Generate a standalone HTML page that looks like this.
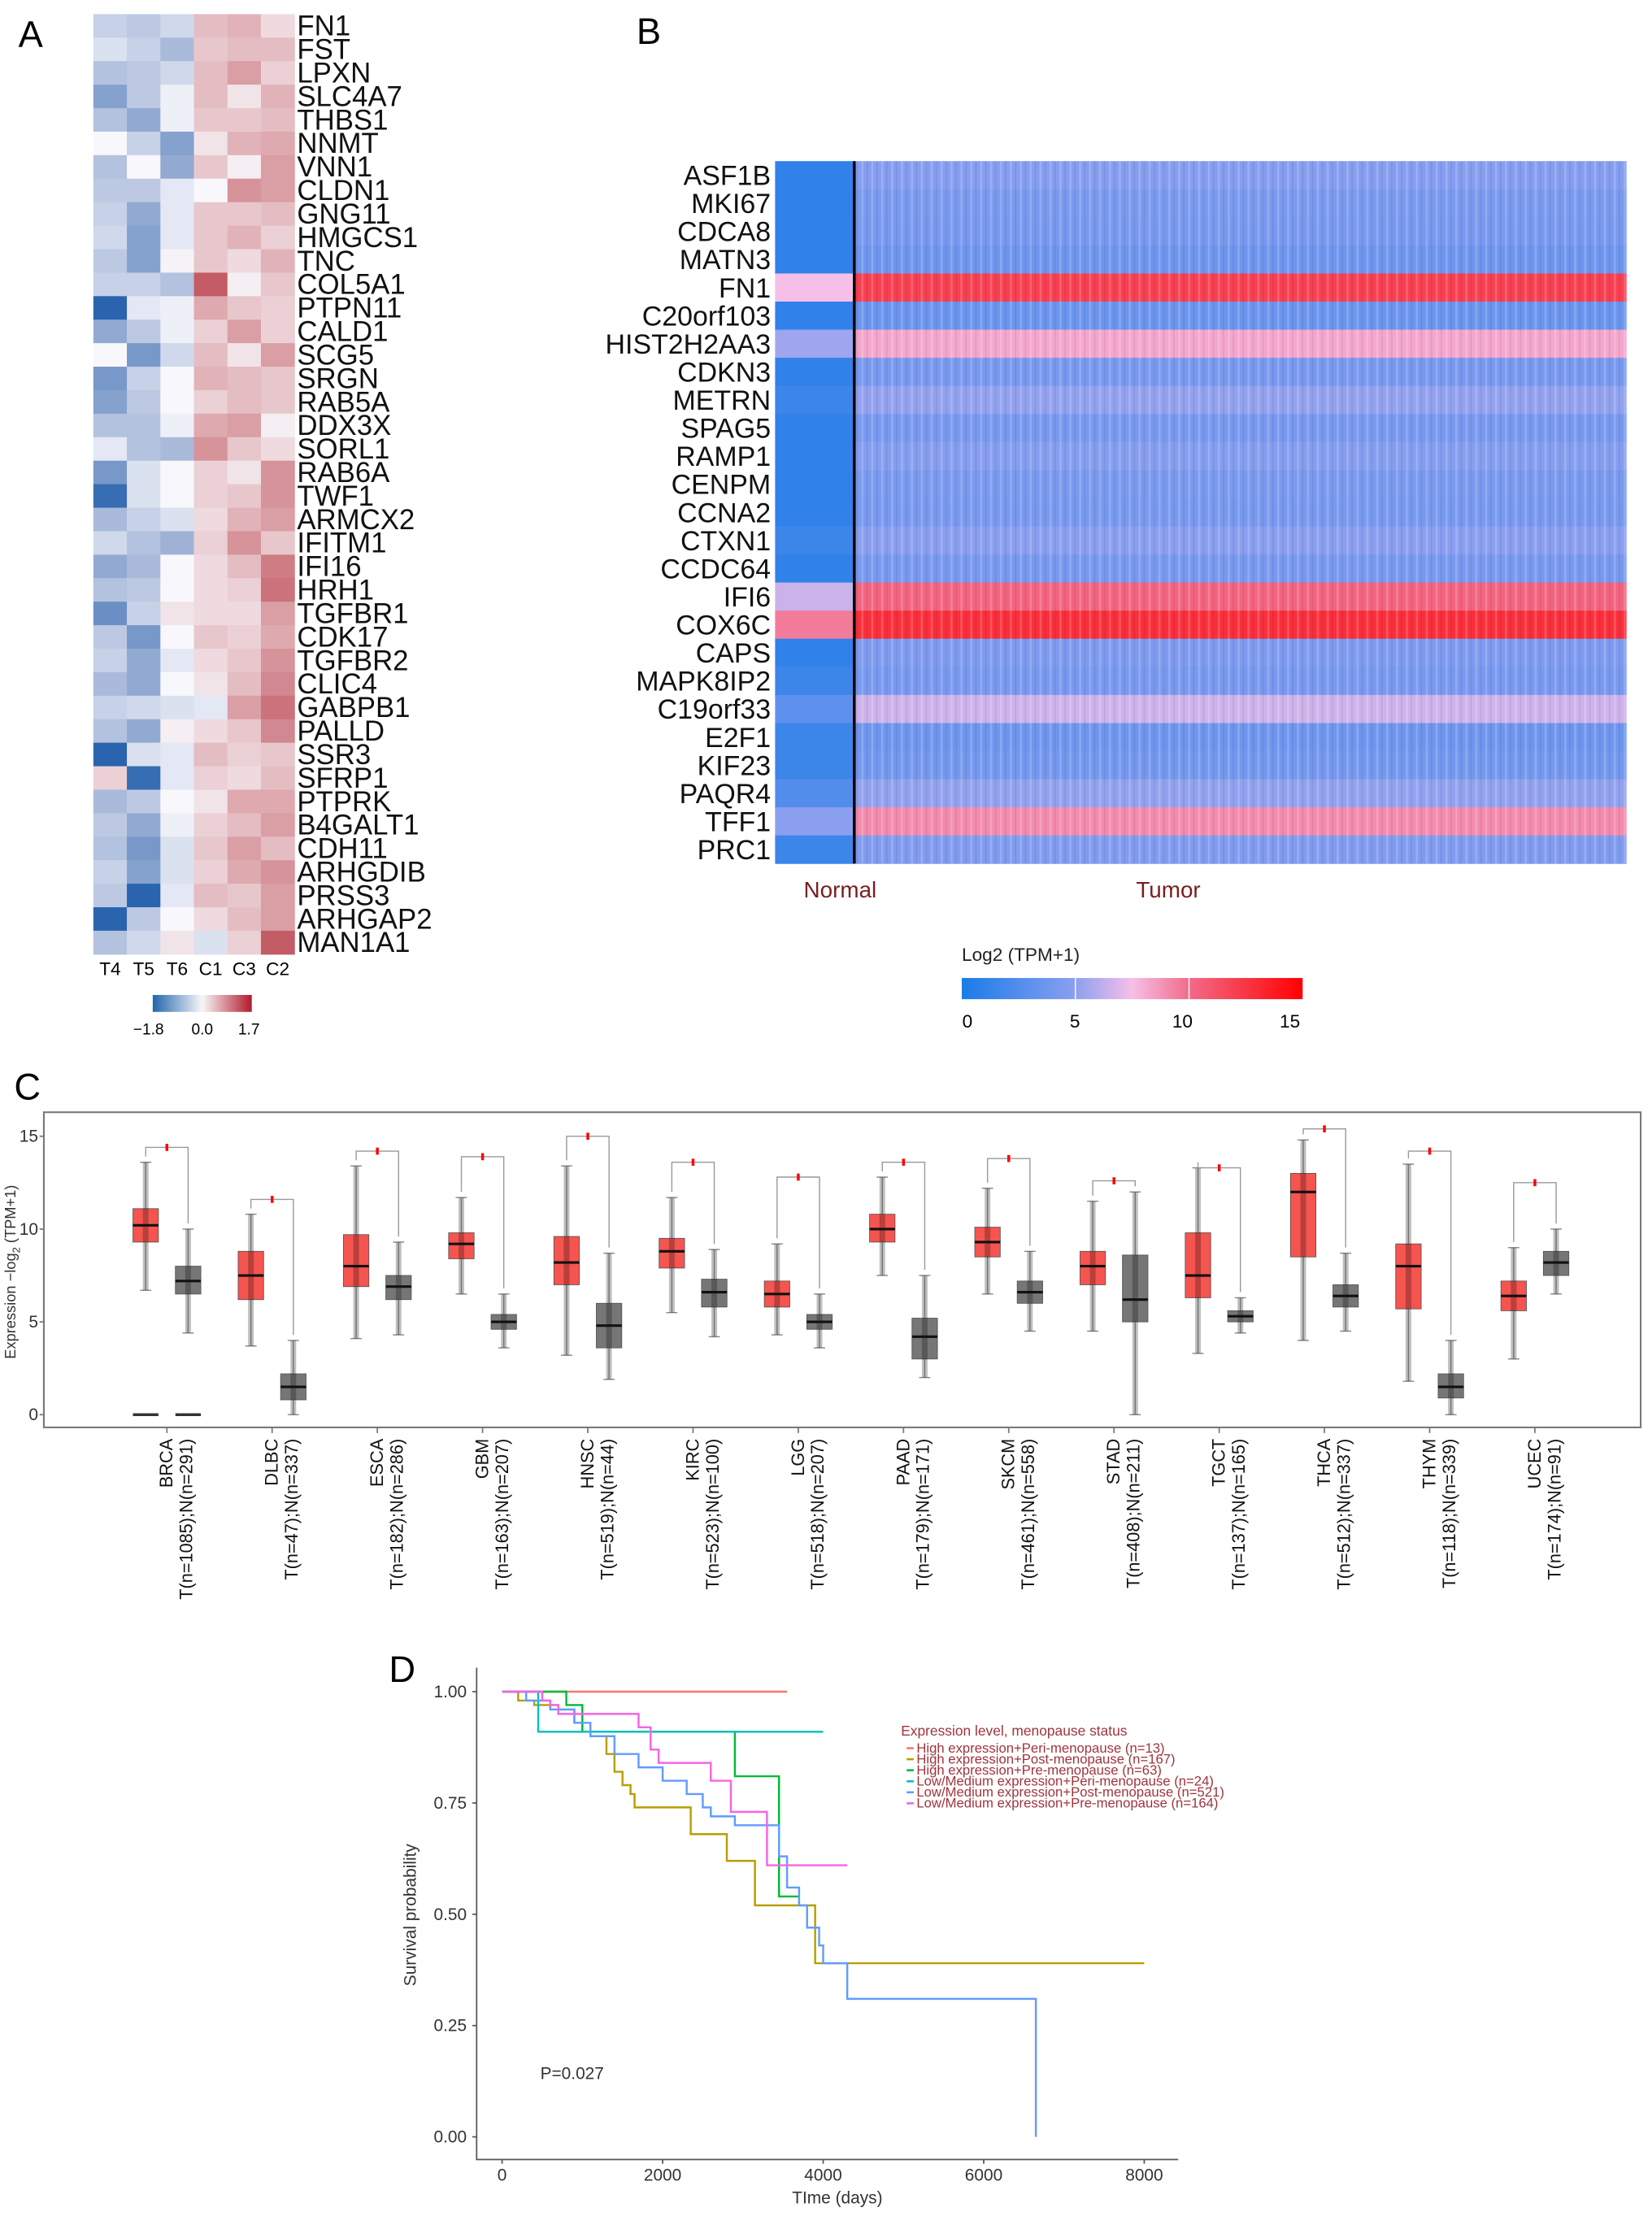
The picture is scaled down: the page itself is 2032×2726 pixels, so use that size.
<!DOCTYPE html>
<html><head><meta charset="utf-8"><style>
html,body{margin:0;padding:0;background:#fff;}
svg{display:block;font-family:"Liberation Sans",Arial,sans-serif;}
</style></head><body>
<svg id="fig" xmlns="http://www.w3.org/2000/svg" width="2032" height="2726" viewBox="0 0 1168 1568" preserveAspectRatio="none">
<defs>
<linearGradient id="gA" x1="0" x2="1"><stop offset="0" stop-color="#2166ac"/><stop offset="0.5" stop-color="#f7f7f7"/><stop offset="1" stop-color="#b2182b"/></linearGradient>
<linearGradient id="gB" x1="0" x2="1"><stop offset="0" stop-color="#1a7be8"/><stop offset="0.33" stop-color="#8a9ff0"/><stop offset="0.5" stop-color="#f5bfe8"/><stop offset="0.67" stop-color="#f26a88"/><stop offset="1" stop-color="#ff0000"/></linearGradient>
<pattern id="stripes" width="7" height="10" patternUnits="userSpaceOnUse"><rect x="0" y="0" width="1.5" height="10" fill="#fff" opacity="0.18"/><rect x="3.5" y="0" width="1" height="10" fill="#000" opacity="0.07"/></pattern>
</defs>
<g id="A"></g><g id="B"></g><g id="C"></g><g id="D"></g>
</svg>
<script>
// ---------- Panel A data ----------
const aGenes=["FN1","FST","LPXN","SLC4A7","THBS1","NNMT","VNN1","CLDN1","GNG11","HMGCS1","TNC","COL5A1","PTPN11","CALD1","SCG5","SRGN","RAB5A","DDX3X","SORL1","RAB6A","TWF1","ARMCX2","IFITM1","IFI16","HRH1","TGFBR1","CDK17","TGFBR2","CLIC4","GABPB1","PALLD","SSR3","SFRP1","PTPRK","B4GALT1","CDH11","ARHGDIB","PRSS3","ARHGAP2","MAN1A1"];
const aSamples=["T4","T5","T6","C1","C3","C2"];
const aValues=[
[-0.5,-0.6,-0.4,0.6,0.7,0.3],[-0.3,-0.5,-0.8,0.5,0.6,0.6],[-0.7,-0.6,-0.4,0.6,0.9,0.4],[-1.1,-0.6,-0.1,0.6,0.2,0.7],
[-0.7,-1.0,-0.1,0.5,0.5,0.6],[0,-0.5,-1.1,0.2,0.7,0.8],[-0.7,0,-1.0,0.5,0.1,0.9],[-0.6,-0.6,-0.2,0,1.0,0.9],
[-0.5,-1.0,-0.2,0.5,0.5,0.6],[-0.4,-1.1,-0.2,0.5,0.7,0.4],[-0.6,-1.1,0.05,0.5,0.3,0.7],[-0.5,-0.5,-0.7,1.5,0.1,0.5],
[-1.8,-0.2,-0.1,0.8,0.5,0.4],[-1.0,-0.6,-0.1,0.4,0.9,0.4],[0,-1.2,-0.4,0.6,0.2,0.9],[-1.2,-0.5,0,0.7,0.6,0.5],
[-1.1,-0.6,0,0.4,0.6,0.5],[-0.7,-0.7,-0.1,0.8,0.9,0.1],[-0.2,-0.7,-0.8,1.0,0.5,0.3],[-1.2,-0.3,0,0.4,0.2,1.0],
[-1.7,-0.3,0,0.4,0.5,1.0],[-0.8,-0.5,-0.3,0.3,0.7,0.9],[-0.4,-0.7,-0.9,0.4,1.0,0.5],[-1.0,-0.8,0,0.3,0.6,1.2],
[-0.7,-0.6,0,0.3,0.4,1.3],[-1.3,-0.5,0.2,0.3,0.3,0.9],[-0.6,-1.2,0,0.5,0.4,0.8],[-0.5,-1.0,-0.2,0.3,0.5,1.0],
[-0.8,-1.0,0,0.2,0.6,1.1],[-0.5,-0.4,-0.3,-0.2,0.9,1.3],[-0.7,-1.0,0.1,0.3,0.5,1.1],[-1.8,-0.3,-0.2,0.6,0.4,0.5],
[0.4,-1.7,-0.2,0.4,0.3,0.6],[-0.8,-0.6,0,0.2,0.8,0.8],[-0.6,-1.0,-0.1,0.4,0.6,0.9],[-0.7,-1.2,-0.3,0.5,0.9,0.6],
[-0.5,-1.1,-0.3,0.4,0.8,1.0],[-0.6,-1.8,-0.2,0.6,0.5,0.9],[-1.8,-0.6,0,0.3,0.6,0.9],[-0.7,-0.4,0.2,-0.3,0.4,1.5]];
const aScaleTicks=["−1.8","0.0","1.7"];
// ---------- Panel B data ----------
const bGenes=["ASF1B","MKI67","CDCA8","MATN3","FN1","C20orf103","HIST2H2AA3","CDKN3","METRN","SPAG5","RAMP1","CENPM","CCNA2","CTXN1","CCDC64","IFI6","COX6C","CAPS","MAPK8IP2","C19orf33","E2F1","KIF23","PAQR4","TFF1","PRC1"];
const bNormal=[1,1,1,1,7.5,1,5.5,1,1.5,1,1,1,1,1.5,1,6.5,9.5,1,1.5,3,1.5,1.5,2.5,5,1.5];
const bTumor=[4.8,4.3,4.2,3.8,12,3.6,8.2,4.2,5.2,4.2,4.8,4.3,4.2,5,4.2,10.3,12.8,4.5,4.2,6.6,3.8,4,5.2,9,4.6];
const bTicks=[0,5,10,15];
// ---------- Panel C data ----------
const cCats=["BRCA","DLBC","ESCA","GBM","HNSC","KIRC","LGG","PAAD","SKCM","STAD","TGCT","THCA","THYM","UCEC"];
const cCounts=["T(n=1085);N(n=291)","T(n=47);N(n=337)","T(n=182);N(n=286)","T(n=163);N(n=207)","T(n=519);N(n=44)","T(n=523);N(n=100)","T(n=518);N(n=207)","T(n=179);N(n=171)","T(n=461);N(n=558)","T(n=408);N(n=211)","T(n=137);N(n=165)","T(n=512);N(n=337)","T(n=118);N(n=339)","T(n=174);N(n=91)"];
// [median,q1,q3,lo,hi]
const cTumor=[[10.2,9.3,11.1,6.7,13.6],[7.5,6.2,8.8,3.7,10.8],[8.0,6.9,9.7,4.1,13.4],[9.2,8.4,9.8,6.5,11.7],[8.2,7.0,9.6,3.2,13.4],[8.8,7.9,9.5,5.5,11.7],[6.5,5.8,7.2,4.3,9.2],[10.0,9.3,10.8,7.5,12.8],[9.3,8.5,10.1,6.5,12.2],[8.0,7.0,8.8,4.5,11.5],[7.5,6.3,9.8,3.3,13.3],[12.0,8.5,13.0,4.0,14.8],[8.0,5.7,9.2,1.8,13.5],[6.4,5.6,7.2,3.0,9.0]];
const cNormal=[[7.2,6.5,8.0,4.4,10.0],[1.5,0.8,2.2,0,4.0],[6.9,6.2,7.5,4.3,9.3],[5.0,4.6,5.4,3.6,6.5],[4.8,3.6,6.0,1.9,8.7],[6.6,5.8,7.3,4.2,8.9],[5.0,4.6,5.4,3.6,6.5],[4.2,3.0,5.2,2.0,7.5],[6.6,6.0,7.2,4.5,8.8],[6.2,5.0,8.6,0,12.0],[5.3,5.0,5.6,4.4,6.3],[6.4,5.8,7.0,4.5,8.7],[1.5,0.9,2.2,0,4.0],[8.2,7.5,8.8,6.5,10.0]];
const cSig=[14.4,11.6,14.2,13.9,15.0,13.6,12.8,13.6,13.8,12.6,13.3,15.4,14.2,12.5];
const cYTicks=[0,5,10,15];
// ---------- Panel D data ----------
const dNames=["High expression+Peri-menopause (n=13)","High expression+Post-menopause (n=167)","High expression+Pre-menopause (n=63)","Low/Medium expression+Peri-menopause (n=24)","Low/Medium expression+Post-menopause (n=521)","Low/Medium expression+Pre-menopause (n=164)"];
const dColors=["#f8766d","#b79f00","#00ba38","#00bfc4","#619cff","#f564e3"];
const dTimes=[
[0,3550],
[0,200,400,700,900,1000,1100,1300,1400,1500,1600,1650,2350,2800,3150,3900,8000],
[0,800,1000,1050,2900,3450,3700],
[0,450,4000],
[0,300,600,900,1100,1400,1700,2000,2300,2500,2600,2900,3450,3550,3700,3800,3950,4000,4300,6650],
[0,500,600,700,1700,1850,1950,2600,2850,3300,3500,4300]];
const dSurv=[
[1,1],
[1,0.98,0.97,0.96,0.93,0.91,0.90,0.86,0.82,0.79,0.77,0.74,0.68,0.62,0.52,0.39,0.39],
[1,0.97,0.91,0.91,0.81,0.54,0.54],
[1,0.91,0.91],
[1,0.98,0.96,0.93,0.90,0.86,0.83,0.80,0.77,0.74,0.72,0.70,0.63,0.56,0.52,0.47,0.43,0.39,0.31,0.0],
[1,0.98,0.97,0.95,0.92,0.87,0.84,0.80,0.73,0.61,0.61,0.61]];
const dXTicks=[0,2000,4000,6000,8000];
const dYTicks=[0,0.25,0.5,0.75,1.0];

const NS="http://www.w3.org/2000/svg";
function mk(parent,tag,attrs,text){const e=document.createElementNS(NS,tag);for(const k in attrs)e.setAttribute(k,attrs[k]);if(text!==undefined)e.textContent=text;parent.appendChild(e);return e;}
function lerpC(c1,c2,t){const a=[1,3,5].map(i=>parseInt(c1.substr(i,2),16)),b=[1,3,5].map(i=>parseInt(c2.substr(i,2),16));return "rgb("+a.map((v,i)=>Math.round(v+(b[i]-v)*t)).join(",")+")";}
function ramp(stops,v){for(let i=0;i<stops.length-1;i++){if(v<=stops[i+1][0]){const t=(v-stops[i][0])/(stops[i+1][0]-stops[i][0]);return lerpC(stops[i][1],stops[i+1][1],Math.max(0,Math.min(1,t)));}}return stops[stops.length-1][1];}

// ===== Panel A =====
const A=document.getElementById('A');
let t=mk(A,'text',{x:13,y:33,'font-size':26},'A');


const aX0=66,aY0=10,aW=23.7,aH=16.63;
const aStops=[[-1.8,"#2a64ae"],[-0.9,"#9fb2d6"],[0,"#f8f8fc"],[0.85,"#dca4aa"],[1.7,"#bb4650"]];
aGenes.forEach((g,r)=>{
  aSamples.forEach((s,c)=>{
    const e=mk(A,'rect',{x:aX0+c*aW,y:aY0+r*aH,width:aW+0.3,height:aH+0.3,fill:ramp(aStops,aValues[r][c])});
    
    
  });
  const l=mk(A,'text',{x:210,y:aY0+r*aH+aH-1.5,'font-size':20,fill:'#111'},g);
  
  
});
aSamples.forEach((s,c)=>{
  const l=mk(A,'text',{x:aX0+c*aW+aW/2,y:690,'font-size':13,'text-anchor':'middle'},s);
  
  
});
let cb=mk(A,'rect',{x:108,y:704,width:70,height:12,fill:'url(#gA)'});


aScaleTicks.forEach((s,i)=>{const l=mk(A,'text',{x:[105,143,176][i],y:732,'font-size':11,'text-anchor':'middle'},s);
  
  });

// ===== Panel B =====
const B=document.getElementById('B');
t=mk(B,'text',{x:450,y:31,'font-size':26},'B');


const bX0=548,bXn=604,bX1=1150,bY0=114,bH=(611-114)/25;
const bStops=[[0,"#1a7be8"],[5,"#8a9ff0"],[7.5,"#f5bfe8"],[10,"#f26a88"],[15,"#ff0000"]];
bGenes.forEach((g,r)=>{
  let e=mk(B,'rect',{x:bX0,y:bY0+r*bH,width:bXn-bX0,height:bH+0.3,fill:ramp(bStops,bNormal[r])});
  
  
  e=mk(B,'rect',{x:bXn,y:bY0+r*bH,width:bX1-bXn,height:bH+0.3,fill:ramp(bStops,bTumor[r])});
  
  
  const l=mk(B,'text',{x:545,y:bY0+r*bH+bH-3,'font-size':19.5,'text-anchor':'end',fill:'#111'},g);
  
  
});
let st=mk(B,'rect',{x:bXn,y:bY0,width:bX1-bXn,height:611-bY0,fill:'url(#stripes)'});


let dv=mk(B,'line',{x1:bXn,x2:bXn,y1:bY0,y2:611,stroke:'#000','stroke-width':2});


t=mk(B,'text',{x:594,y:635,'font-size':16,'text-anchor':'middle',fill:'#7b1e1e'},'Normal');


t=mk(B,'text',{x:826,y:635,'font-size':16,'text-anchor':'middle',fill:'#7b1e1e'},'Tumor');


t=mk(B,'text',{x:680,y:680,'font-size':13,fill:'#222'},'Log2 (TPM+1)');


cb=mk(B,'rect',{x:680,y:692,width:241,height:15,fill:'url(#gB)'});


bTicks.forEach(v=>{const x=684+v*(912-684)/15;
  const l=mk(B,'text',{x:x,y:727,'font-size':13,'text-anchor':'middle'},String(v));
  
  
  if(v>0&&v<15){const w=mk(B,'line',{x1:680+v*241/15,x2:680+v*241/15,y1:692,y2:707,stroke:'#fff','stroke-width':0.8});
  
  }
});

// ===== Panel C =====
const C=document.getElementById('C');
t=mk(C,'text',{x:10,y:778,'font-size':26},'C');


const cy=v=>1001-v*(1001-804)/15;
const cx=i=>118+i*74.4;
let fr=mk(C,'rect',{x:31,y:787,width:1129,height:223,fill:'none',stroke:'#777','stroke-width':1.2});


cYTicks.forEach(v=>{
  const l=mk(C,'text',{x:27,y:cy(v)+4,'font-size':12,'text-anchor':'end',fill:'#333'},String(v));
  
  
  const k=mk(C,'line',{x1:28,x2:31,y1:cy(v),y2:cy(v),stroke:'#777'});
  
  
});
let yt=mk(C,'text',{transform:'translate(11,900) rotate(-90)','font-size':10.5,'text-anchor':'middle',fill:'#333'});


yt.innerHTML='Expression −log<tspan font-size="7.5" dy="3">2</tspan><tspan dy="-3"> (TPM+1)</tspan>';
function box(x,d,fill,name){
  const w=18;
  let e=mk(C,'line',{x1:x,x2:x,y1:cy(d[4]),y2:cy(d[3]),stroke:'#999','stroke-width':0.8});
  
  
  [d[3],d[4]].forEach(v=>{const c=mk(C,'line',{x1:x-4,x2:x+4,y1:cy(v),y2:cy(v),stroke:'#888','stroke-width':0.8});
    
    });
  e=mk(C,'rect',{x:x-w/2,y:cy(d[2]),width:w,height:cy(d[1])-cy(d[2]),fill:fill,stroke:'#555','stroke-width':0.5});
  
  
  e=mk(C,'rect',{x:x-2,y:cy(d[4]),width:4,height:cy(d[3])-cy(d[4]),fill:'#000',opacity:0.25});
  
  
  e=mk(C,'line',{x1:x-w/2,x2:x+w/2,y1:cy(d[0]),y2:cy(d[0]),stroke:'#111','stroke-width':1.8});
  
  
}
cCats.forEach((c,i)=>{
  const x=cx(i);
  box(x-15,cTumor[i],'#f6544f','tumor');
  box(x+15,cNormal[i],'#767676','normal');
  const sy=cy(cSig[i]);
  const br=mk(C,'polyline',{points:`${x-15},${cy(cTumor[i][4])-4} ${x-15},${sy} ${x+15},${sy} ${x+15},${cy(cNormal[i][4])-4}`,fill:'none',stroke:'#999','stroke-width':0.8});
  
  
  const s=mk(C,'rect',{x:x-1,y:sy-2.5,width:2,height:5,fill:'#f00'});
  
  
  const k=mk(C,'line',{x1:x,x2:x,y1:1010,y2:1014,stroke:'#777'});
  
  
  const l=mk(C,'text',{transform:`translate(${x+4},1018) rotate(-90)`,'font-size':12.5,'text-anchor':'end',fill:'#111'},c);
  
  
  const n=mk(C,'text',{transform:`translate(${x+18},1018) rotate(-90)`,'font-size':12.5,'text-anchor':'end',fill:'#111'},cCounts[i]);
  
  
});
[103,133].forEach(x=>{const z=mk(C,'line',{x1:x-9,x2:x+9,y1:cy(0),y2:cy(0),stroke:'#333','stroke-width':2});
  
  });

// ===== Panel D =====
const D=document.getElementById('D');
t=mk(D,'text',{x:275,y:1190,'font-size':26},'D');


const dx=v=>355+v*(809-355)/8000;
const dy=v=>1512-v*(1512-1197);
let ax=mk(D,'polyline',{points:'337,1180 337,1528 833,1528',fill:'none',stroke:'#555','stroke-width':1});


dXTicks.forEach(v=>{const l=mk(D,'text',{x:dx(v),y:1543,'font-size':12,'text-anchor':'middle',fill:'#333'},String(v));
  
  
  const k=mk(D,'line',{x1:dx(v),x2:dx(v),y1:1528,y2:1531,stroke:'#555'});
  
  });
dYTicks.forEach(v=>{const l=mk(D,'text',{x:330,y:dy(v)+4,'font-size':12,'text-anchor':'end',fill:'#333'},v.toFixed(2));
  
  
  const k=mk(D,'line',{x1:334,x2:337,y1:dy(v),y2:dy(v),stroke:'#555'});
  
  });
t=mk(D,'text',{x:592,y:1559,'font-size':12,'text-anchor':'middle',fill:'#333'},'TIme (days)');


t=mk(D,'text',{transform:'translate(294,1355) rotate(-90)','font-size':12,'text-anchor':'middle',fill:'#333'},'Survival probability');


t=mk(D,'text',{x:382,y:1471,'font-size':12,fill:'#333'},'P=0.027');


dTimes.forEach((ts,k)=>{
  let pts=[];
  ts.forEach((tt,i)=>{ if(i>0) pts.push(dx(tt)+','+dy(dSurv[k][i-1])); pts.push(dx(tt)+','+dy(dSurv[k][i])); });
  const p=mk(D,'polyline',{points:pts.join(' '),fill:'none',stroke:dColors[k],'stroke-width':1.4});
  
  
});
t=mk(D,'text',{x:637,y:1228,'font-size':10,fill:'#a0343c'},'Expression level, menopause status');


dNames.forEach((n,i)=>{
  const y=1240+i*7.8;
  const m=mk(D,'line',{x1:641,x2:646,y1:y-3,y2:y-3,stroke:dColors[i],'stroke-width':1.5});
  
  
  const l=mk(D,'text',{x:648,y:y,'font-size':9.6,fill:'#a0343c'},n);
  
  
});
</script>
</body></html>
